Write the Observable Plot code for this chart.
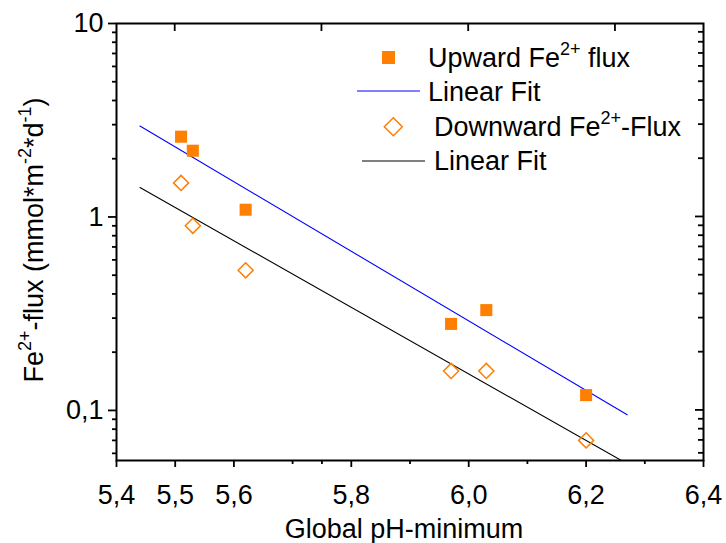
<!DOCTYPE html>
<html>
<head>
<meta charset="utf-8">
<script src="https://cdn.jsdelivr.net/npm/d3@7"></script>
<script src="https://cdn.jsdelivr.net/npm/@observablehq/plot@0.6"></script>
<style>
  html, body { margin: 0; padding: 0; background: #fff; }
  #chart svg { display: block; }
</style>
</head>
<body>
<div id="chart"></div>
<script>
// ---- data ----
const phUp = [5.51, 5.53, 5.62, 5.97, 6.03, 6.20];
const fluxUp = [2.6, 2.2, 1.09, 0.28, 0.33, 0.12];
const phDown = [5.51, 5.53, 5.62, 5.97, 6.03, 6.20];
const fluxDown = [1.5, 0.9, 0.53, 0.16, 0.16, 0.07];
const fitX = [5.44, 6.27];
const fitUp = [2.95, 0.095];
const fitDown = [1.42, 0.053];

const xMajorTicks = [5.4, 5.5, 5.6, 5.8, 6.0, 6.2, 6.4];
const xMinorTicks = [5.7, 5.75, 5.9, 6.1, 6.3];
const xTopTicks = [5.5, 5.75, 6.0, 6.25];
const yMajorTicks = [0.1, 1, 10];
const yRightMajor = [0.1, 1];
const yMinorTicks = [0.06, 0.07, 0.08, 0.09, 0.2, 0.3, 0.4, 0.5, 0.6, 0.7, 0.8, 0.9, 2, 3, 4, 5, 6, 7, 8, 9];

const xTitle = "Global pH-minimum";
const legendLabels = ["Upward Fe", "Linear Fit", "Downward Fe", "Linear Fit"];

const ORANGE = "#ff7f00";
const FONT = "'Liberation Sans', Arial, sans-serif";
const FS = 27;
const fmtX = d => d.toFixed(1).replace(".", ",");
const fmtY = d => d >= 1 ? String(d) : String(d).replace(".", ",");

const up = phUp.map((x, i) => ({x, y: fluxUp[i]}));
const down = phDown.map((x, i) => ({x, y: fluxDown[i]}));
const fUp = fitX.map((x, i) => ({x, y: fitUp[i]}));
const fDown = fitX.map((x, i) => ({x, y: fitDown[i]}));

const W = 726, H = 543, ML = 116, MR = 23, MT = 23, MB = 83;

const chart = Plot.plot({
  width: W,
  height: H,
  marginLeft: ML,
  marginRight: MR,
  marginTop: MT,
  marginBottom: MB,
  style: {fontFamily: FONT, fontSize: FS + "px", color: "#000", background: "#fff"},
  x: {domain: [5.4, 6.4]},
  y: {type: "log", domain: [0.0551, 10]},
  marks: [
    Plot.line(fUp, {x: "x", y: "y", stroke: "#0000ff", strokeWidth: 1.1, clip: true}),
    Plot.line(fDown, {x: "x", y: "y", stroke: "#000", strokeWidth: 1.1, clip: true}),
    Plot.dot(up, {x: "x", y: "y", symbol: "square", r: 6.8, fill: ORANGE, stroke: "none"}),
    Plot.dot(down, {x: "x", y: "y", symbol: "diamond2", r: 6.8, fill: "none", stroke: ORANGE, strokeWidth: 1.5}),
    Plot.axisX(xMajorTicks, {anchor: "bottom", tickSize: 7, tickPadding: 17, tickFormat: fmtX, fontSize: FS, strokeWidth: 1.8, label: null}),
    Plot.axisX(xMinorTicks, {anchor: "bottom", tickSize: 4, fill: "none", strokeWidth: 1.8, label: null}),
    Plot.axisY(yMajorTicks, {anchor: "left", tickSize: 8, tickPadding: 5, tickFormat: fmtY, fontSize: FS, strokeWidth: 1.8, label: null}),
    Plot.axisY(yMinorTicks, {anchor: "left", tickSize: 4, fill: "none", strokeWidth: 1.8, label: null}),
    Plot.frame({stroke: "#000", strokeWidth: 2})
  ]
});

document.getElementById("chart").appendChild(chart);

// ---- inward ticks on top and right edges, placed with the plot's own scales ----
const sx = chart.scale("x"), sy = chart.scale("y");
const svg = d3.select(chart);
const tk = svg.append("g").attr("stroke", "#000").attr("stroke-width", 1.8);
const frameTop = MT, frameRight = W - MR;
xTopTicks.forEach(v => {
  const px = sx.apply(v);
  tk.append("line").attr("x1", px).attr("x2", px).attr("y1", frameTop).attr("y2", frameTop + 8);
});
yRightMajor.forEach(v => {
  const py = sy.apply(v);
  tk.append("line").attr("x1", frameRight - 8).attr("x2", frameRight).attr("y1", py).attr("y2", py);
});
yMinorTicks.forEach(v => {
  const py = sy.apply(v);
  tk.append("line").attr("x1", frameRight - 5).attr("x2", frameRight).attr("y1", py).attr("y2", py);
});

// ---- titles & legend (real text) ----
const g = svg.append("g").attr("font-family", FONT).attr("fill", "#000").attr("text-anchor", "start");

// x title
g.append("text").attr("x", 404).attr("y", 538).attr("text-anchor", "middle")
  .attr("font-size", FS).text(xTitle);

// y title with superscripts
const yt = g.append("text").attr("transform", "translate(43,240) rotate(-90)")
  .attr("text-anchor", "middle").attr("font-size", FS);
yt.append("tspan").text("Fe");
yt.append("tspan").attr("font-size", 18).attr("dy", -12).text("2+");
yt.append("tspan").attr("dy", 12).text("-flux (mmol*m");
yt.append("tspan").attr("font-size", 18).attr("dy", -12).text("-2");
yt.append("tspan").attr("dy", 12).text("*d");
yt.append("tspan").attr("font-size", 18).attr("dy", -12).text("-1");
yt.append("tspan").attr("dy", 12).text(")");

// legend
const lg = g.append("g");
lg.append("rect").attr("x", 382).attr("y", 51).attr("width", 13).attr("height", 13).attr("fill", ORANGE);
const t1 = lg.append("text").attr("x", 428).attr("y", 67).attr("font-size", FS);
t1.append("tspan").text(legendLabels[0]);
t1.append("tspan").attr("font-size", 18).attr("dy", -12).text("2+");
t1.append("tspan").attr("dy", 12).text(" flux");

lg.append("line").attr("x1", 357).attr("x2", 420).attr("y1", 91).attr("y2", 91).attr("stroke", "#0000ff").attr("stroke-width", 1.1);
lg.append("text").attr("x", 428).attr("y", 101).attr("font-size", FS).text(legendLabels[1]);

lg.append("path").attr("d", "M393.3,117.7L402.3,126.7L393.3,135.7L384.3,126.7Z")
  .attr("fill", "none").attr("stroke", ORANGE).attr("stroke-width", 1.5);
const t3 = lg.append("text").attr("x", 434).attr("y", 136).attr("font-size", FS);
t3.append("tspan").text(legendLabels[2]);
t3.append("tspan").attr("font-size", 18).attr("dy", -12).text("2+");
t3.append("tspan").attr("dy", 12).text("-Flux");

lg.append("line").attr("x1", 362).attr("x2", 425).attr("y1", 161).attr("y2", 161).attr("stroke", "#000").attr("stroke-width", 1.1);
lg.append("text").attr("x", 434).attr("y", 170).attr("font-size", FS).text(legendLabels[3]);
</script>
</body>
</html>
